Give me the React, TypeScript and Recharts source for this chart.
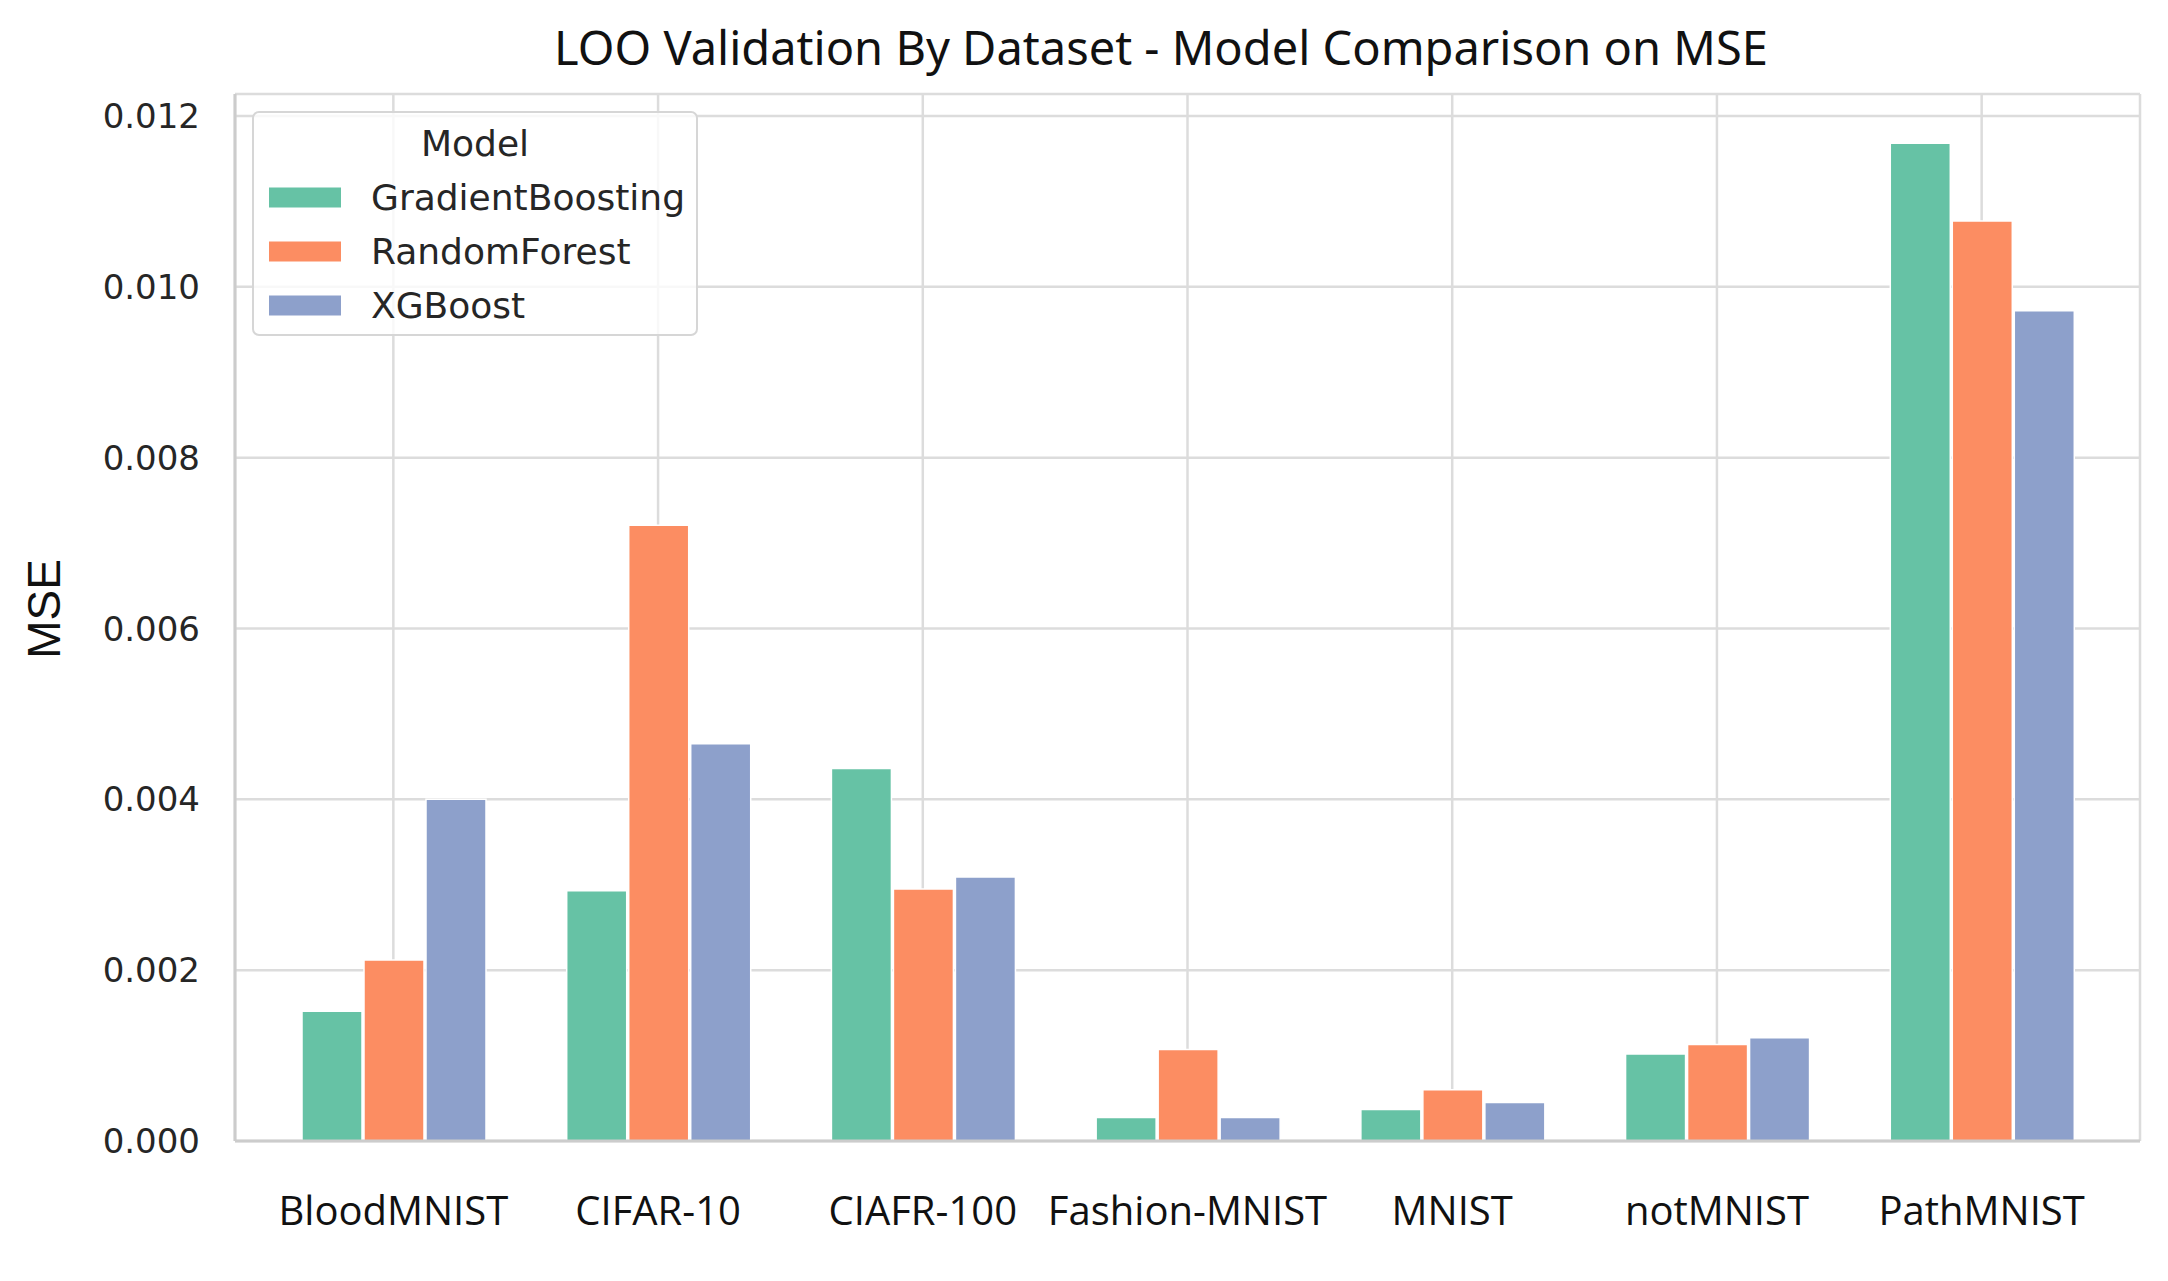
import React from "react";
import {
  BarChart,
  Bar,
  XAxis,
  YAxis,
  CartesianGrid,
} from "recharts";

const datasets = [
  "BloodMNIST",
  "CIFAR-10",
  "CIAFR-100",
  "Fashion-MNIST",
  "MNIST",
  "notMNIST",
  "PathMNIST",
];
const gradientBoosting = [0.00152, 0.00293, 0.00436, 0.000275, 0.00037, 0.00102, 0.01168];
const randomForest = [0.00212, 0.00721, 0.00295, 0.00107, 0.0006, 0.00113, 0.01077];
const xgBoost = [0.004, 0.00465, 0.00309, 0.000275, 0.00045, 0.00121, 0.00972];
const yTicks = [0, 0.002, 0.004, 0.006, 0.008, 0.01, 0.012];

const models = [
  { key: "GradientBoosting", color: "#66c2a5" },
  { key: "RandomForest", color: "#fc8d62" },
  { key: "XGBoost", color: "#8da0cb" },
];

const data = datasets.map((name, i) => ({
  name,
  GradientBoosting: gradientBoosting[i],
  RandomForest: randomForest[i],
  XGBoost: xgBoost[i],
}));

const W = 2152;
const H = 1265;
const GRID = "#dcdcdc";
const SPINE = "#cccccc";

function ModelLegend() {
  return (
    <div
      style={{
        position: "absolute",
        left: 244,
        top: 103,
        width: 446,
        height: 225,
        boxSizing: "border-box",
        border: "2px solid #d6d6d6",
        borderRadius: 7,
        background: "rgba(255,255,255,0.8)",
        fontFamily: "DejaVu Sans",
        fontSize: 36,
        color: "#262626",
      }}
    >
      <div
        style={{
          position: "absolute",
          top: 30,
          left: 0,
          width: "100%",
          textAlign: "center",
          transform: "translateY(-50%)",
        }}
      >
        Model
      </div>
      {models.map((m, i) => (
        <div
          key={m.key}
          style={{
            position: "absolute",
            left: 15,
            top: 84 + i * 54,
            transform: "translateY(-50%)",
            display: "flex",
            alignItems: "center",
            whiteSpace: "nowrap",
          }}
        >
          <span
            style={{
              display: "inline-block",
              width: 72,
              height: 20,
              background: m.color,
              marginRight: 30,
            }}
          />
          {m.key}
        </div>
      ))}
    </div>
  );
}

export default function App() {
  return (
    <div style={{ position: "relative", width: W, height: H }}>
      <div
        style={{
          position: "absolute",
          left: 1153,
          top: 39,
          transform: "translate(-50%, -50%)",
          whiteSpace: "nowrap",
          fontFamily: "Noto Sans",
          fontSize: 47,
          color: "#111",
        }}
      >
        LOO Validation By Dataset - Model Comparison on MSE
      </div>
      <BarChart
        width={W}
        height={H}
        data={data}
        margin={{ top: 86, right: 20, left: 0, bottom: 32 }}
        barCategoryGap={41}
        barGap={2}
      >
        <CartesianGrid stroke={GRID} strokeWidth={2.5} />
        <XAxis
          dataKey="name"
          height={100}
          padding={{ left: 26, right: 26 }}
          tickLine={false}
          tickSize={0}
          tickMargin={56}
          axisLine={{ stroke: SPINE, strokeWidth: 3 }}
          tick={{ fontFamily: "Open Sans", fontSize: 40, fill: "#111" }}
          interval={0}
        />
        <XAxis
          xAxisId="top"
          dataKey="name"
          orientation="top"
          height={0}
          tick={false}
          tickLine={false}
          axisLine={{ stroke: SPINE, strokeWidth: 3 }}
        />
        <YAxis
          width={227}
          domain={[0, 0.012258]}
          ticks={yTicks}
          allowDataOverflow
          tickFormatter={(v: number) => v.toFixed(3)}
          tickLine={false}
          tickSize={0}
          tickMargin={35}
          axisLine={{ stroke: SPINE, strokeWidth: 3 }}
          tick={{ fontFamily: "DejaVu Sans", fontSize: 34, fill: "#262626" }}
          label={{
            content: () => (
              <text
                x={36}
                y={601}
                transform="rotate(-90 36 601)"
                textAnchor="middle"
                dominantBaseline="central"
                fontFamily="Liberation Sans"
                fontSize={46}
                fill="#111"
              >
                MSE
              </text>
            ),
          }}
        />
        <YAxis
          yAxisId="right"
          orientation="right"
          width={0}
          tick={false}
          tickLine={false}
          axisLine={{ stroke: SPINE, strokeWidth: 3 }}
        />
        {models.map((m) => (
          <Bar
            key={m.key}
            dataKey={m.key}
            fill={m.color}
            stroke="#ffffff"
            strokeWidth={1.5}
            isAnimationActive={false}
          />
        ))}
      </BarChart>
      <ModelLegend />
    </div>
  );
}
